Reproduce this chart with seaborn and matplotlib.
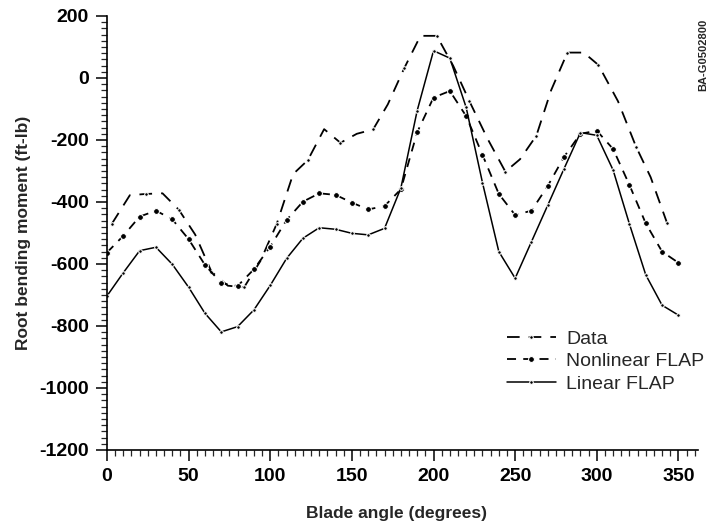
import numpy as np
import pandas as pd
import matplotlib
matplotlib.use("Agg")
import matplotlib.pyplot as plt
import seaborn as sns
from matplotlib.ticker import MultipleLocator

# ---- data ----
data_angle = [3, 14, 24, 34, 44, 54, 64, 74, 84, 94, 104, 114, 123, 133, 143, 153,
              163, 172, 182, 192, 202, 212, 222, 233, 244, 253, 263, 272, 282, 292,
              301, 313, 324, 333, 343]
data_moment = [-470, -378, -374, -372, -425, -505, -625, -670, -675, -590, -470, -310,
               -265, -165, -209, -180, -166, -85, 31, 136, 136, 40, -75, -195, -302,
               -262, -186, -40, 82, 82, 42, -75, -221, -320, -467]

flap_angle = list(range(0, 360, 10))
nonlinear_moment = [-563, -509, -447, -428, -456, -520, -603, -662, -671, -617, -544,
                    -458, -399, -372, -377, -402, -424, -413, -359, -175, -63, -42,
                    -123, -248, -374, -442, -428, -348, -254, -180, -170, -229, -345,
                    -469, -560, -596]
linear_moment = [-703, -628, -557, -546, -601, -675, -759, -819, -802, -748, -669,
                 -582, -517, -483, -488, -501, -506, -485, -355, -105, 88, 64, -95,
                 -338, -560, -646, -528, -410, -292, -176, -185, -297, -471, -635,
                 -733, -765]

series_labels = ["Data", "Nonlinear FLAP", "Linear FLAP"]
x_ticks = [0, 50, 100, 150, 200, 250, 300, 350]
y_ticks = [-1200, -1000, -800, -600, -400, -200, 0, 200]

sns.set_style("ticks")
plt.rcParams["font.family"] = ["Liberation Sans", "DejaVu Sans"]
plt.rcParams["axes.unicode_minus"] = False

fig = plt.figure(figsize=(7.23, 5.27), dpi=100)
ax = fig.add_axes([107 / 723, 1 - 450 / 527, (698 - 107) / 723, (450 - 16) / 527])

df_data = pd.DataFrame({"angle": data_angle, "moment": data_moment})
df_non = pd.DataFrame({"angle": flap_angle, "moment": nonlinear_moment})
df_lin = pd.DataFrame({"angle": flap_angle, "moment": linear_moment})

sns.lineplot(data=df_data, x="angle", y="moment", ax=ax, color="black",
             linewidth=1.3, linestyle=(0, (7, 5)), marker="o", markersize=2.6,
             markevery=2, estimator=None, label=series_labels[0])
sns.lineplot(data=df_non, x="angle", y="moment", ax=ax, color="black",
             linewidth=1.3, linestyle=(0, (5, 4)), marker="o", markersize=4.2,
             estimator=None, label=series_labels[1])
sns.lineplot(data=df_lin, x="angle", y="moment", ax=ax, color="black",
             linewidth=1.1, linestyle="-", marker="o", markersize=2.6,
             estimator=None, label=series_labels[2])

ax.set_xlim(0, 362)
ax.set_ylim(-1200, 200)
ax.set_xticks(x_ticks)
ax.set_yticks(y_ticks)
ax.xaxis.set_minor_locator(MultipleLocator(5))
ax.yaxis.set_minor_locator(MultipleLocator(20))
ax.tick_params(which="major", length=8, width=1.1, direction="out", labelsize=14,
               pad=5, colors="black")
ax.tick_params(which="minor", length=4.5, width=0.9, direction="out")
for lab in ax.get_xticklabels() + ax.get_yticklabels():
    lab.set_fontweight("bold")

sns.despine(ax=ax)
for s in ("left", "bottom"):
    ax.spines[s].set_linewidth(1.2)
    ax.spines[s].set_color("black")

ax.set_xlabel("Blade angle (degrees)", fontsize=12.5, fontweight="bold")
ax.set_ylabel("Root bending moment (ft-lb)", fontsize=12.5, fontweight="bold")
ax.xaxis.set_label_coords(0.49, -0.128)
ax.yaxis.set_label_coords(-0.128, 0.5)

leg = ax.legend(loc="upper left", bbox_to_anchor=(0.677, 0.276), frameon=False,
                fontsize=14, handlelength=2.5, handletextpad=0.55,
                labelspacing=0.25, borderaxespad=0, borderpad=0)

fig.text(0.972, 0.895, "BA-G0502800", rotation=90, fontsize=8, fontweight="bold",
         ha="center", va="center")

fig.savefig("out.png", dpi=100)
